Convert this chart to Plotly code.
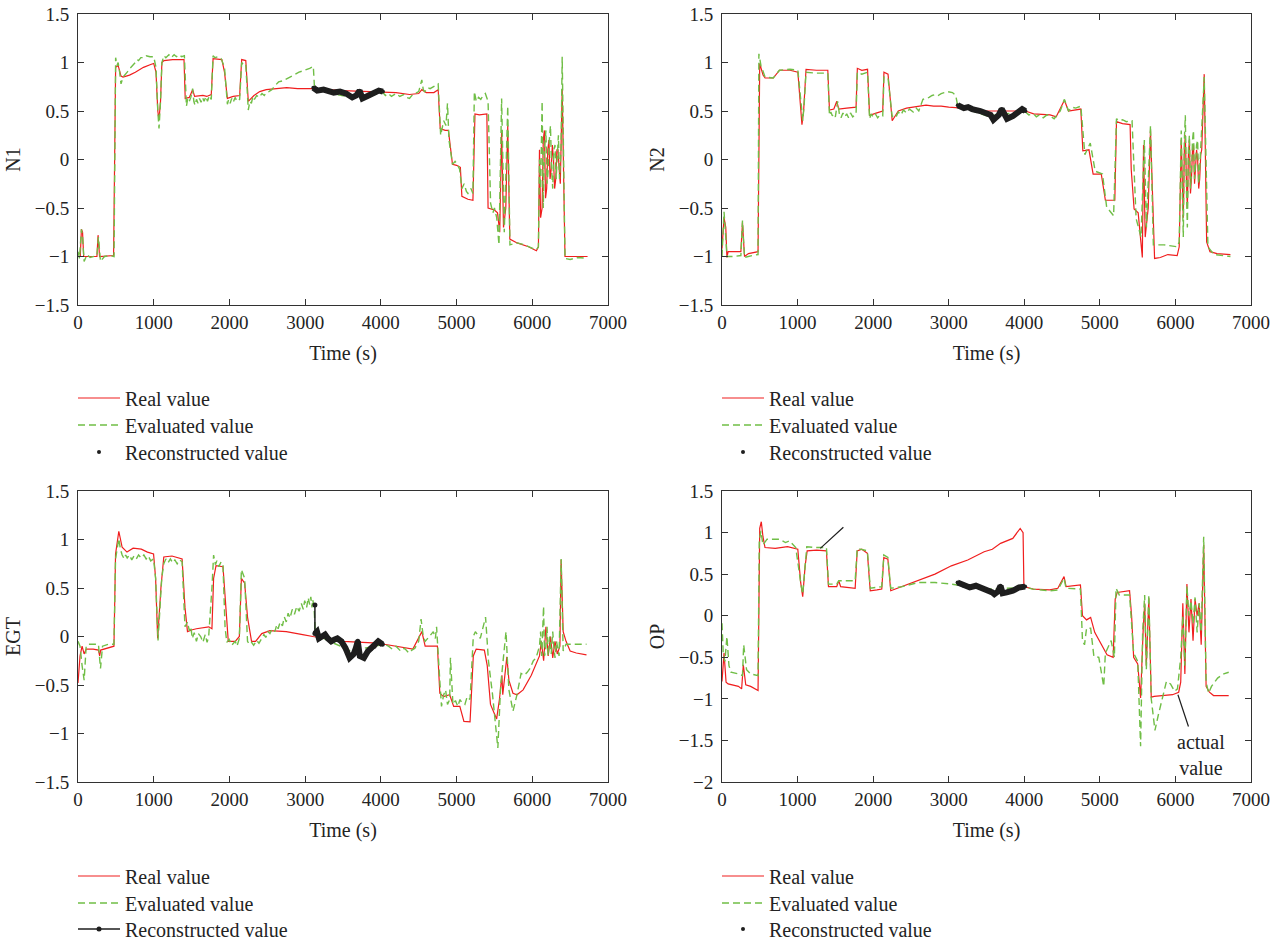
import plotly.graph_objects as go

# ---------------- DATA ----------------
# N1 panel
N1_RED_T = [0, 30, 45, 60, 75, 250, 265, 285, 470, 497, 530, 568, 595, 680, 757, 865, 960, 1000, 1030, 1054, 1070, 1090, 1108, 1135, 1250, 1400, 1416, 1470, 1514, 1540, 1650, 1700, 1760, 1784, 1900, 1935, 1973, 2050, 2135, 2162, 2216, 2249, 2324, 2400, 2486, 2600, 2757, 2900, 3108, 3500, 4027, 4200, 4378, 4500, 4541, 4600, 4700, 4757, 4784, 4850, 4892, 4946, 5000, 5050, 5070, 5150, 5216, 5243, 5300, 5400, 5416, 5500, 5541, 5570, 5595, 5620, 5650, 5676, 5703, 5800, 5950, 6054, 6081, 6095, 6110, 6130, 6145, 6160, 6175, 6190, 6205, 6220, 6235, 6250, 6265, 6280, 6295, 6310, 6325, 6340, 6355, 6370, 6395, 6432, 6730]
N1_RED_V = [-1.0, -1.0, -0.72, -0.75, -1.0, -1.0, -0.78, -1.0, -0.99, 0.95, 0.97, 0.86, 0.85, 0.87, 0.9, 0.95, 0.98, 0.99, 0.9, 0.5, 0.41, 0.6, 1.0, 1.02, 1.03, 1.03, 0.63, 0.64, 0.72, 0.65, 0.66, 0.65, 0.67, 1.04, 1.03, 0.9, 0.63, 0.65, 0.66, 1.03, 1.02, 0.6, 0.66, 0.7, 0.72, 0.73, 0.74, 0.73, 0.73, 0.71, 0.70, 0.69, 0.67, 0.68, 0.72, 0.69, 0.69, 0.72, 0.32, 0.3, 0.3, -0.05, -0.06, -0.08, -0.38, -0.41, -0.42, 0.47, 0.46, 0.47, -0.5, -0.52, -0.55, -0.75, 0.3, -0.7, -0.5, 0.35, -0.82, -0.86, -0.9, -0.94, -0.9, 0.1, -0.6, -0.5, 0.2, 0.3, -0.4, -0.3, 0.1, 0.2, -0.2, -0.1, 0.15, 0.0, -0.3, -0.2, 0.1, 0.1, -0.1, -0.25, 0.72, -1.0, -1.0]
N1_GRN_T = [0, 20, 45, 60, 81, 120, 160, 200, 250, 270, 297, 350, 420, 476, 497, 515, 530, 550, 568, 595, 620, 650, 675, 700, 730, 757, 780, 800, 830, 865, 900, 950, 1000, 1030, 1054, 1070, 1090, 1108, 1135, 1160, 1200, 1230, 1270, 1300, 1330, 1370, 1405, 1432, 1450, 1470, 1490, 1514, 1530, 1545, 1565, 1585, 1605, 1625, 1645, 1665, 1690, 1710, 1735, 1760, 1784, 1810, 1850, 1890, 1935, 1973, 1990, 2010, 2030, 2050, 2075, 2100, 2135, 2162, 2190, 2216, 2249, 2270, 2290, 2310, 2330, 2360, 2390, 2430, 2460, 2486, 2520, 2560, 2600, 2649, 2700, 2757, 2800, 2850, 2919, 2960, 3000, 3060, 3108, 3124, 3400, 3700, 4027, 4060, 4100, 4140, 4200, 4250, 4300, 4340, 4378, 4420, 4450, 4500, 4541, 4560, 4580, 4620, 4650, 4700, 4757, 4790, 4830, 4860, 4880, 4900, 4946, 4980, 5010, 5040, 5070, 5100, 5130, 5150, 5190, 5216, 5235, 5260, 5290, 5320, 5350, 5380, 5416, 5449, 5480, 5500, 5530, 5560, 5595, 5630, 5676, 5705, 5800, 5900, 5950, 6020, 6054, 6081, 6095, 6110, 6130, 6145, 6160, 6180, 6195, 6210, 6225, 6240, 6255, 6270, 6285, 6300, 6315, 6330, 6345, 6360, 6380, 6395, 6432, 6500, 6600, 6730]
N1_GRN_V = [-0.95, -1.02, -0.72, -0.8, -1.05, -0.98, -1.01, -1.0, -0.99, -0.8, -1.05, -1.0, -0.99, -1.0, 1.05, 0.97, 1.0, 0.9, 0.78, 0.85, 0.87, 0.9, 0.93, 0.95, 0.98, 1.0, 1.03, 1.02, 1.05, 1.05, 1.07, 1.06, 1.06, 0.95, 0.5, 0.32, 0.6, 1.0, 1.07, 1.05, 1.08, 1.05, 1.08, 1.06, 1.08, 1.06, 1.07, 0.55, 0.63, 0.6, 0.64, 0.73, 0.6, 0.56, 0.62, 0.58, 0.63, 0.59, 0.64, 0.6, 0.65, 0.6, 0.66, 0.62, 1.07, 1.05, 1.06, 1.04, 0.95, 0.57, 0.62, 0.58, 0.63, 0.59, 0.64, 0.6, 0.62, 1.0, 0.97, 0.98, 0.51, 0.6, 0.58, 0.65, 0.62, 0.66, 0.64, 0.68, 0.66, 0.69, 0.7, 0.72, 0.76, 0.8, 0.81, 0.83, 0.85, 0.87, 0.9, 0.91, 0.92, 0.94, 0.96, 0.73, 0.67, 0.63, 0.69, 0.66, 0.68, 0.65, 0.68, 0.65, 0.67, 0.64, 0.63, 0.67, 0.68, 0.7, 0.82, 0.72, 0.7, 0.74, 0.73, 0.75, 0.78, 0.25, 0.4, 0.35, 0.58, 0.2, -0.05, -0.02, -0.05, -0.1, -0.3, -0.25, -0.33, -0.35, -0.3, -0.35, 0.7, 0.6, 0.64, 0.62, 0.66, 0.68, 0.6, -0.45, -0.55, -0.5, -0.6, -0.88, 0.63, -0.75, 0.55, -0.88, -0.86, -0.88, -0.9, -0.92, -0.93, -0.9, 0.0, -0.3, 0.6, -0.5, 0.1, 0.3, -0.25, -0.1, 0.2, 0.35, -0.1, -0.3, 0.1, 0.15, -0.2, 0.0, 0.25, -0.2, 0.1, 1.06, -1.02, -1.03, -1.01, -1.02]
N1_REC_T = [3108, 3160, 3243, 3324, 3378, 3460, 3540, 3622, 3676, 3719, 3757, 3838, 3919, 3973, 4027]
N1_REC_V = [0.74, 0.71, 0.72, 0.70, 0.69, 0.70, 0.68, 0.64, 0.66, 0.71, 0.63, 0.66, 0.69, 0.71, 0.70]

# N2 panel
N2_RED_T = [0, 27, 50, 65, 81, 200, 250, 271, 298, 350, 477, 499, 515, 543, 570, 678, 760, 900, 1004, 1030, 1058, 1080, 1112, 1250, 1400, 1422, 1480, 1519, 1545, 1650, 1774, 1791, 1850, 1926, 1953, 2050, 2127, 2143, 2197, 2252, 2333, 2442, 2604, 2700, 2800, 2900, 3000, 3093, 3500, 4015, 4124, 4250, 4341, 4422, 4531, 4585, 4700, 4748, 4775, 4856, 4911, 5019, 5073, 5150, 5198, 5220, 5300, 5400, 5415, 5453, 5507, 5562, 5578, 5600, 5640, 5670, 5724, 5800, 5900, 6023, 6050, 6077, 6090, 6104, 6118, 6131, 6145, 6158, 6172, 6185, 6199, 6212, 6226, 6239, 6253, 6266, 6280, 6294, 6308, 6321, 6335, 6348, 6381, 6413, 6457, 6550, 6728]
N2_RED_V = [-0.92, -0.6, -0.7, -1.01, -0.95, -0.95, -0.95, -0.65, -1.0, -0.97, -0.95, 0.99, 0.95, 0.87, 0.84, 0.84, 0.92, 0.92, 0.9, 0.6, 0.36, 0.5, 0.93, 0.92, 0.92, 0.51, 0.52, 0.6, 0.52, 0.53, 0.54, 0.94, 0.92, 0.93, 0.455, 0.48, 0.5, 0.9, 0.88, 0.4, 0.5, 0.53, 0.55, 0.56, 0.55, 0.55, 0.54, 0.535, 0.5, 0.5, 0.47, 0.46, 0.46, 0.44, 0.61, 0.5, 0.51, 0.52, 0.09, 0.1, -0.15, -0.15, -0.42, -0.42, -0.42, 0.39, 0.37, 0.36, -0.1, -0.51, -0.55, -1.01, 0.15, -0.8, -0.5, 0.3, -1.02, -1.01, -0.98, -0.99, -0.9, 0.2, -0.3, -0.6, 0.1, 0.25, -0.2, -0.5, 0.05, 0.2, -0.35, -0.2, 0.1, 0.15, -0.25, -0.1, 0.1, 0.0, -0.3, -0.2, 0.05, 0.1, 0.88, -0.85, -0.95, -0.97, -0.98]
N2_GRN_T = [0, 27, 50, 65, 150, 250, 271, 298, 400, 477, 488, 515, 570, 678, 760, 900, 1004, 1040, 1069, 1090, 1112, 1250, 1400, 1422, 1440, 1460, 1480, 1500, 1530, 1555, 1575, 1600, 1625, 1650, 1675, 1700, 1730, 1774, 1791, 1850, 1926, 1953, 1975, 2000, 2030, 2060, 2090, 2127, 2143, 2197, 2252, 2280, 2310, 2333, 2370, 2400, 2442, 2480, 2530, 2570, 2604, 2659, 2700, 2740, 2780, 2822, 2860, 2900, 2940, 2984, 3050, 3093, 3120, 3500, 4015, 4060, 4124, 4160, 4200, 4250, 4300, 4341, 4395, 4476, 4531, 4585, 4630, 4680, 4748, 4802, 4873, 4938, 5035, 5090, 5182, 5220, 5260, 5300, 5350, 5426, 5480, 5545, 5589, 5616, 5670, 5708, 5850, 6023, 6050, 6077, 6090, 6104, 6118, 6131, 6145, 6158, 6172, 6185, 6199, 6212, 6226, 6239, 6253, 6266, 6280, 6294, 6308, 6321, 6335, 6348, 6381, 6430, 6511, 6728]
N2_GRN_V = [-1.0, -0.54, -0.8, -1.0, -1.0, -0.99, -0.63, -1.01, -0.99, -0.98, 1.09, 0.97, 0.85, 0.84, 0.92, 0.93, 0.92, 0.6, 0.4, 0.6, 0.9, 0.89, 0.89, 0.455, 0.49, 0.45, 0.47, 0.44, 0.6, 0.46, 0.43, 0.48, 0.44, 0.47, 0.43, 0.48, 0.44, 0.47, 0.9, 0.88, 0.9, 0.42, 0.47, 0.44, 0.47, 0.43, 0.46, 0.45, 0.85, 0.84, 0.44, 0.47, 0.45, 0.49, 0.46, 0.51, 0.48, 0.52, 0.49, 0.53, 0.5, 0.62, 0.63, 0.64, 0.66, 0.67, 0.66, 0.68, 0.69, 0.7, 0.69, 0.66, 0.55, 0.45, 0.49, 0.46, 0.47, 0.44, 0.46, 0.43, 0.46, 0.45, 0.42, 0.5, 0.62, 0.5, 0.54, 0.53, 0.55, 0.05, 0.17, -0.12, -0.15, -0.49, -0.58, 0.42, 0.4, 0.41, 0.39, 0.4, -0.61, -0.8, 0.2, -0.7, 0.35, -0.88, -0.88, -0.9, -0.85, 0.3, -0.3, -0.8, 0.2, 0.455, -0.3, -0.7, 0.1, 0.25, -0.3, -0.15, 0.2, 0.3, -0.2, 0.0, 0.15, 0.2, -0.25, -0.1, 0.1, 0.25, 0.85, -0.9, -0.98, -1.0]
N2_REC_T = [3120, 3201, 3256, 3310, 3418, 3500, 3554, 3592, 3663, 3701, 3744, 3771, 3852, 3934, 3972, 4015]
N2_REC_V = [0.56, 0.53, 0.54, 0.52, 0.50, 0.48, 0.46, 0.41, 0.46, 0.52, 0.46, 0.42, 0.45, 0.50, 0.52, 0.50]

# EGT panel
EGT_RED_T = [0, 27, 54, 81, 108, 200, 270, 286, 300, 378, 475, 496, 539, 583, 647, 728, 836, 917, 998, 1025, 1052, 1095, 1133, 1241, 1375, 1413, 1446, 1510, 1564, 1726, 1769, 1791, 1823, 1915, 1953, 1985, 2077, 2131, 2158, 2201, 2239, 2292, 2346, 2427, 2535, 2751, 2967, 3102, 3500, 4019, 4046, 4315, 4423, 4542, 4585, 4747, 4779, 4828, 4909, 4962, 5043, 5097, 5178, 5221, 5259, 5367, 5405, 5448, 5529, 5566, 5599, 5610, 5664, 5691, 5745, 5798, 5879, 5987, 6095, 6120, 6150, 6180, 6210, 6240, 6270, 6300, 6330, 6365, 6381, 6408, 6446, 6500, 6581, 6716]
EGT_RED_V = [-0.48, -0.2, -0.1, -0.18, -0.13, -0.13, -0.14, -0.2, -0.14, -0.12, -0.1, 0.85, 1.085, 0.92, 0.87, 0.91, 0.9, 0.87, 0.85, 0.6, -0.02, 0.5, 0.82, 0.83, 0.8, 0.3, 0.05, 0.07, 0.08, 0.1, 0.08, 0.6, 0.73, 0.72, 0.35, -0.05, -0.05, 0.0, 0.6, 0.55, 0.2, -0.05, -0.05, 0.03, 0.06, 0.05, 0.02, 0.0, -0.05, -0.07, -0.08, -0.12, -0.13, 0.05, -0.1, -0.1, -0.585, -0.62, -0.6, -0.72, -0.72, -0.875, -0.88, -0.2, -0.13, -0.14, -0.3, -0.7, -0.85, -0.65, -0.4, -0.6, -0.21, -0.45, -0.585, -0.6, -0.55, -0.4, -0.2, -0.05, -0.25, 0.1, -0.2, 0.0, -0.22, -0.05, -0.18, -0.1, 0.79, 0.05, -0.05, -0.15, -0.17, -0.19]
EGT_GRN_T = [0, 27, 54, 81, 108, 135, 270, 297, 324, 400, 475, 496, 539, 560, 583, 610, 630, 650, 680, 710, 740, 770, 800, 836, 870, 900, 930, 960, 998, 1025, 1057, 1106, 1133, 1160, 1190, 1220, 1250, 1280, 1310, 1340, 1375, 1413, 1446, 1470, 1490, 1510, 1535, 1564, 1590, 1620, 1650, 1680, 1705, 1726, 1769, 1791, 1815, 1834, 1860, 1890, 1915, 1942, 1965, 1996, 2030, 2077, 2100, 2131, 2158, 2201, 2239, 2265, 2292, 2320, 2360, 2390, 2427, 2455, 2480, 2510, 2535, 2565, 2600, 2625, 2643, 2670, 2700, 2725, 2751, 2775, 2800, 2830, 2859, 2890, 2920, 2950, 2975, 2994, 3020, 3040, 3060, 3075, 3090, 3100, 3118, 3135, 3600, 4046, 4100, 4150, 4200, 4261, 4310, 4369, 4410, 4450, 4500, 4531, 4560, 4585, 4640, 4693, 4720, 4736, 4774, 4801, 4830, 4855, 4880, 4909, 4919, 4952, 4985, 5016, 5045, 5070, 5110, 5140, 5178, 5221, 5248, 5313, 5383, 5421, 5475, 5545, 5583, 5620, 5653, 5691, 5745, 5798, 5852, 5890, 5933, 5970, 6014, 6050, 6095, 6110, 6125, 6149, 6162, 6176, 6195, 6210, 6230, 6250, 6270, 6284, 6300, 6320, 6340, 6354, 6381, 6408, 6446, 6716]
EGT_GRN_V = [-0.05, -0.1, -0.3, -0.45, -0.1, -0.08, -0.08, -0.33, -0.1, -0.08, -0.08, 0.8, 1.01, 0.9, 0.84, 0.8, 0.84, 0.81, 0.84, 0.79, 0.83, 0.8, 0.84, 0.81, 0.84, 0.8, 0.83, 0.78, 0.8, 0.6, -0.04, 0.6, 0.75, 0.8, 0.76, 0.8, 0.76, 0.79, 0.75, 0.79, 0.77, 0.1, 0.15, 0.06, 0.1, -0.02, 0.04, -0.05, 0.03, 0.0, -0.06, 0.02, -0.06, 0.0, 0.5, 0.84, 0.74, 0.78, 0.72, 0.77, 0.73, 0.1, -0.06, -0.03, -0.09, -0.05, -0.1, -0.02, 0.69, 0.6, -0.05, -0.08, -0.06, -0.09, -0.04, -0.07, -0.02, 0.02, -0.01, 0.05, 0.03, 0.08, 0.05, 0.12, 0.08, 0.15, 0.11, 0.2, 0.15, 0.24, 0.19, 0.28, 0.23, 0.31, 0.26, 0.34, 0.28, 0.37, 0.3, 0.4, 0.33, 0.41, 0.3, 0.38, 0.3, 0.02, -0.15, -0.08, -0.1, -0.13, -0.1, -0.15, -0.12, -0.17, -0.14, -0.12, -0.05, 0.18, 0.0, -0.05, 0.0, 0.05, -0.02, 0.1, -0.4, -0.72, -0.6, -0.55, -0.7, -0.65, -0.22, -0.7, -0.66, -0.72, -0.65, -0.68, -0.7, -0.62, -0.65, 0.0, 0.05, -0.02, 0.2, -0.25, -0.6, -1.15, -0.5, -0.2, 0.05, -0.55, -0.77, -0.6, -0.38, -0.4, -0.37, -0.33, -0.25, -0.22, -0.1, 0.05, -0.2, 0.31, -0.2, -0.15, 0.1, -0.2, 0.0, -0.18, 0.05, -0.1, -0.22, -0.05, -0.15, -0.2, 0.8, -0.15, -0.08, -0.08]
EGT_REC_T = [3129, 3129, 3156, 3182, 3220, 3263, 3300, 3344, 3390, 3425, 3479, 3533, 3587, 3615, 3641, 3670, 3695, 3722, 3776, 3830, 3870, 3911, 3965, 4019]
EGT_REC_V = [0.325, 0.03, 0.05, -0.02, 0.0, 0.02, -0.02, -0.05, -0.03, -0.02, -0.05, -0.12, -0.22, -0.2, -0.18, -0.12, -0.05, -0.2, -0.22, -0.15, -0.12, -0.1, -0.05, -0.08]

# OP panel
OP_RED_T = [0, 27, 54, 81, 217, 260, 282, 314, 379, 434, 477, 499, 520, 542, 569, 705, 867, 1003, 1041, 1068, 1100, 1127, 1250, 1382, 1409, 1518, 1545, 1570, 1650, 1762, 1789, 1850, 1924, 1962, 2050, 2114, 2141, 2195, 2233, 2385, 2602, 2818, 3035, 3252, 3469, 3577, 3686, 3848, 3946, 3984, 3995, 4119, 4336, 4444, 4526, 4553, 4743, 4770, 4824, 4878, 4932, 5014, 5095, 5176, 5203, 5230, 5393, 5420, 5447, 5501, 5539, 5572, 5593, 5615, 5648, 5680, 5718, 5962, 6043, 6070, 6098, 6125, 6152, 6179, 6206, 6233, 6260, 6287, 6314, 6341, 6374, 6406, 6450, 6504, 6705]
OP_RED_V = [-0.79, -0.45, -0.8, -0.82, -0.85, -0.88, -0.59, -0.83, -0.85, -0.88, -0.9, 1.05, 1.13, 0.95, 0.82, 0.81, 0.83, 0.8, 0.4, 0.23, 0.6, 0.78, 0.79, 0.78, 0.35, 0.35, 0.42, 0.35, 0.34, 0.33, 0.78, 0.8, 0.75, 0.3, 0.31, 0.32, 0.7, 0.68, 0.3, 0.35, 0.42, 0.5, 0.6, 0.67, 0.77, 0.8, 0.87, 0.93, 1.05, 1.0, 0.35, 0.32, 0.31, 0.33, 0.47, 0.35, 0.37, 0.0, -0.05, -0.02, -0.2, -0.33, -0.47, -0.5, 0.2, 0.28, 0.3, 0.0, -0.5, -0.58, -0.99, -0.2, 0.15, -0.6, 0.21, -0.98, -0.97, -0.95, -0.92, -0.8, 0.15, -0.7, 0.38, -0.2, 0.2, -0.3, 0.2, 0.0, 0.15, -0.35, 0.85, -0.85, -0.92, -0.96, -0.96]
OP_GRN_T = [0, 16, 38, 65, 92, 119, 217, 271, 287, 325, 379, 477, 493, 515, 542, 596, 759, 840, 894, 976, 1041, 1068, 1100, 1122, 1250, 1382, 1409, 1518, 1545, 1762, 1789, 1924, 1962, 2114, 2141, 2195, 2233, 2385, 2602, 2818, 3035, 3117, 3500, 4011, 4119, 4336, 4444, 4526, 4553, 4743, 4770, 4797, 4824, 4878, 4921, 4986, 5051, 5073, 5149, 5192, 5214, 5257, 5393, 5420, 5447, 5501, 5539, 5566, 5593, 5615, 5648, 5680, 5729, 5772, 5827, 5881, 5935, 5989, 6027, 6070, 6098, 6125, 6152, 6179, 6206, 6233, 6260, 6287, 6314, 6341, 6374, 6406, 6439, 6477, 6558, 6640, 6705]
OP_GRN_V = [-0.09, -0.45, -0.55, -0.25, -0.6, -0.68, -0.7, -0.72, -0.35, -0.65, -0.7, -0.72, 0.9, 1.02, 0.85, 0.92, 0.92, 0.88, 0.9, 0.82, 0.4, 0.26, 0.6, 0.83, 0.82, 0.82, 0.38, 0.38, 0.42, 0.42, 0.81, 0.78, 0.33, 0.35, 0.73, 0.7, 0.33, 0.35, 0.4, 0.4, 0.38, 0.37, 0.32, 0.34, 0.32, 0.3, 0.31, 0.45, 0.33, 0.32, -0.3, -0.35, -0.15, -0.15, -0.49, -0.5, -0.85, -0.45, -0.3, -0.5, 0.33, 0.25, 0.25, -0.1, -0.45, -0.55, -1.57, -0.2, 0.25, -0.65, 0.25, -1.0, -1.38, -1.2, -1.0, -0.79, -0.82, -0.91, -0.88, -0.5, 0.0, -0.6, 0.36, 0.0, 0.18, -0.1, 0.22, -0.2, 0.15, -0.2, 0.95, -0.8, -0.93, -0.85, -0.75, -0.7, -0.68]
OP_REC_T = [3117, 3198, 3279, 3360, 3442, 3523, 3577, 3604, 3650, 3686, 3713, 3767, 3848, 3930, 4011]
OP_REC_V = [0.40, 0.36, 0.34, 0.36, 0.33, 0.31, 0.28, 0.26, 0.29, 0.36, 0.27, 0.28, 0.30, 0.34, 0.35]

NAMES = ["Real value", "Evaluated value", "Reconstructed value"]
X_TICKS = [0, 1000, 2000, 3000, 4000, 5000, 6000, 7000]

# ---------------- STYLE ----------------
W, H = 1282, 943
RED = "rgb(240,30,30)"
GRN = "rgb(112,190,70)"
BLK = "rgb(30,30,30)"
AX = "rgb(50,50,50)"
FONT = "Liberation Serif"

def px_x(a, b):
    return [a / W, b / W]

def px_y(top, bot):
    return [1 - bot / H, 1 - top / H]

panels = [
    dict(name="N1", red=(N1_RED_T, N1_RED_V), grn=(N1_GRN_T, N1_GRN_V), rec=(N1_REC_T, N1_REC_V),
         xd=px_x(78, 608), yd=px_y(14, 305), yr=[-1.5, 1.5], legx=73, rows=[398, 425, 452], style="dot"),
    dict(name="N2", red=(N2_RED_T, N2_RED_V), grn=(N2_GRN_T, N2_GRN_V), rec=(N2_REC_T, N2_REC_V),
         xd=px_x(722, 1251), yd=px_y(14, 305), yr=[-1.5, 1.5], legx=717, rows=[398, 425, 452], style="dot"),
    dict(name="EGT", red=(EGT_RED_T, EGT_RED_V), grn=(EGT_GRN_T, EGT_GRN_V), rec=(EGT_REC_T, EGT_REC_V),
         xd=px_x(78, 608), yd=px_y(491, 782), yr=[-1.5, 1.5], legx=73, rows=[876, 903, 929], style="line"),
    dict(name="OP", red=(OP_RED_T, OP_RED_V), grn=(OP_GRN_T, OP_GRN_V), rec=(OP_REC_T, OP_REC_V),
         xd=px_x(722, 1251), yd=px_y(491, 782), yr=[-2, 1.5], legx=717, rows=[876, 903, 929], style="dot"),
]

fig = go.Figure()
layout = dict(
    width=W, height=H, margin=dict(l=0, r=0, t=0, b=0, autoexpand=False),
    paper_bgcolor="white", plot_bgcolor="white",
    font=dict(family=FONT, size=19, color="rgb(35,35,35)"),
)

leg_count = 0
def next_legend(x_px, y_px):
    global leg_count
    leg_count += 1
    lid = "legend" if leg_count == 1 else "legend" + str(leg_count)
    layout[lid] = dict(
        x=x_px / W, y=1 - y_px / H, xanchor="left", yanchor="middle",
        bgcolor="rgba(0,0,0,0)", borderwidth=0, itemwidth=42,
        font=dict(family=FONT, size=20), itemclick=False, itemdoubleclick=False,
    )
    return lid

for i, p in enumerate(panels):
    k = "" if i == 0 else str(i + 1)
    xa, ya = "x" + k, "y" + k
    lx = p["legx"]
    r0, r1, r2 = p["rows"]
    fig.add_trace(go.Scatter(x=p["red"][0], y=p["red"][1], mode="lines", name=NAMES[0],
                             line=dict(color=RED, width=1.2), xaxis=xa, yaxis=ya,
                             legend=next_legend(lx, r0)))
    fig.add_trace(go.Scatter(x=p["grn"][0], y=p["grn"][1], mode="lines", name=NAMES[1],
                             line=dict(color=GRN, width=1.4, dash="7px,4px"), xaxis=xa, yaxis=ya,
                             legend=next_legend(lx, r1)))
    rt, rv = p["rec"]
    if p["style"] == "line":
        fig.add_trace(go.Scatter(x=rt[1:], y=rv[1:], mode="lines", showlegend=False,
                                 line=dict(color=BLK, width=6), xaxis=xa, yaxis=ya, hoverinfo="skip"))
        fig.add_trace(go.Scatter(x=rt, y=rv, mode="lines+markers", name=NAMES[2],
                                 line=dict(color=BLK, width=1.5), marker=dict(color=BLK, size=5),
                                 xaxis=xa, yaxis=ya, legend=next_legend(lx, r2)))
    else:
        fig.add_trace(go.Scatter(x=rt, y=rv, mode="lines", showlegend=False,
                                 line=dict(color=BLK, width=6), xaxis=xa, yaxis=ya, hoverinfo="skip"))
        fig.add_trace(go.Scatter(x=rt, y=rv, mode="markers", name=NAMES[2],
                                 marker=dict(color=BLK, size=4),
                                 xaxis=xa, yaxis=ya, legend=next_legend(lx, r2)))

    layout["xaxis" + k] = dict(
        domain=p["xd"], anchor=ya, range=[0, 7000], tickvals=X_TICKS,
        showgrid=False, zeroline=False, showline=True, linecolor=AX, linewidth=1,
        mirror="ticks", ticks="inside", ticklen=6, tickcolor=AX,
        title=dict(text="Time (s)", font=dict(size=20), standoff=14),
        tickfont=dict(size=19),
    )
    layout["yaxis" + k] = dict(
        domain=p["yd"], anchor=xa, range=p["yr"], dtick=0.5, tick0=0,
        showgrid=False, zeroline=False, showline=True, linecolor=AX, linewidth=1,
        mirror="ticks", ticks="inside", ticklen=6, tickcolor=AX,
        title=dict(text=p["name"], font=dict(size=20), standoff=8),
        tickfont=dict(size=19), ticklabelstandoff=4,
    )

fig.update_layout(**layout)

# OP annotations
fig.add_annotation(x=1301, y=0.81, ax=1626, ay=1.08, xref="x4", yref="y4", axref="x4", ayref="y4",
                   text="", showarrow=True, arrowhead=0, arrowwidth=1.2, arrowcolor=BLK)
fig.add_annotation(x=6033, y=-0.95, ax=6179, ay=-1.35, xref="x4", yref="y4", axref="x4", ayref="y4",
                   text="", showarrow=True, arrowhead=0, arrowwidth=1.2, arrowcolor=BLK)
fig.add_annotation(x=6341, y=-1.67, xref="x4", yref="y4", text="actual<br>value", showarrow=False,
                   font=dict(family=FONT, size=20), align="center")

fig.write_html("out.html")
